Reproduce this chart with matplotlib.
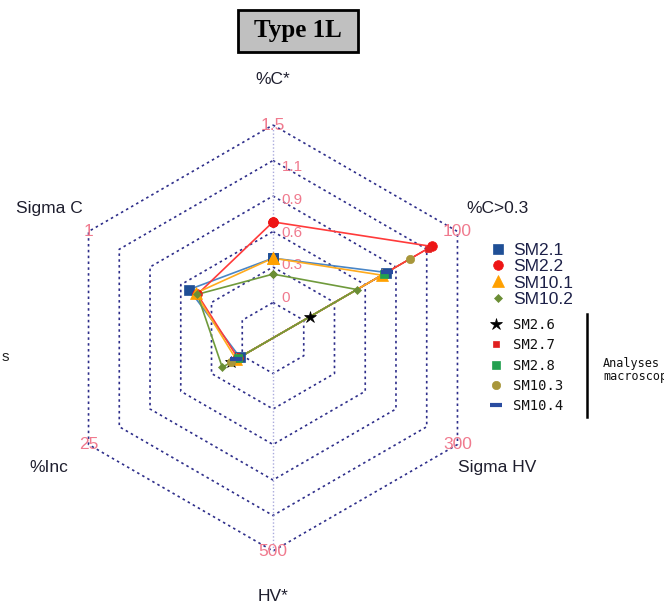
import numpy as np
import matplotlib.pyplot as plt
from matplotlib.lines import Line2D
from matplotlib.patches import Rectangle

# axes of the radar, clockwise from the top
axis_names = ['%C*', '%C>0.3', 'Sigma HV', 'HV*', '%Inc', 'Sigma C']
axis_max = ['1.5', '100', '300', '500', '25', '1']
ring_labels = ['0', '0.3', '0.6', '0.9', '1.1', '1.5']
angles = np.deg2rad([90, 30, -30, -90, -150, 150])

# values as fraction of the outer ring
sm2_1 = [0.375, 0.615, 0, 0, 0.18, 0.455]
sm2_2 = [0.545, 0.86, 0, 0, 0.19, 0.41]
sm10_1 = [0.375, 0.59, 0, 0, 0.20, 0.42]
sm10_2 = [0.30, 0.455, 0, 0, 0.275, 0.41]
# macroscopic analyses
sm2_6 = [0, 0.20, 0, 0, 0.23, 0]
sm2_7 = [0, 0.84, 0, 0, 0.20, 0]
sm2_8 = [0, 0.60, 0, 0, 0.19, 0]
sm10_3 = [0, 0.745, 0, 0, 0.23, 0]
sm10_4 = [0, 0.62, 0, 0, 0.20, 0]

W, H = 664, 611
cx, cy, R = 273, 338, 213

fig = plt.figure(figsize=(W / 100, H / 100), dpi=100)
ax = fig.add_axes([0, 0, 1, 1])
ax.set_xlim(-cx / R, (W - cx) / R)
ax.set_ylim(-(H - cy) / R, cy / R)
ax.axis('off')

# hexagonal grid
ca = np.append(np.cos(angles), np.cos(angles[0]))
sa = np.append(np.sin(angles), np.sin(angles[0]))
for k in range(1, 7):
    r = k / 6
    ax.plot(r * ca, r * sa, color='#2e2e8a', lw=1.2, ls=(0, (1.5, 2)), zorder=1)
ax.plot([0, 0], [-1, 1], color='#aaaadc', lw=1.0, ls=(0, (1, 1.5)), zorder=1)

# labels
for name, mx, a in zip(axis_names, axis_max, angles):
    ax.text(1.215 * np.cos(a), 1.215 * np.sin(a), name, ha='center', va='center',
            fontsize=12.5, family='Liberation Sans', color='#1e1e2e')
    ax.text(np.cos(a), np.sin(a), mx, ha='center', va='center',
            fontsize=12.5, family='Liberation Sans', color='#f07a8e', zorder=2)
for k, lab in enumerate(ring_labels[:-1]):
    ax.text(0.04, (k + 1) / 6 + 0.02 - 0.0125 * k, lab, ha='left', va='center',
            fontsize=11, family='Liberation Sans', color='#f07a8e', zorder=2)

main = [
    ('SM2.1', sm2_1, '#4a86c6', '#1f4f96', 's', 7),
    ('SM2.2', sm2_2, '#ff3a3a', '#ee1515', 'o', 7),
    ('SM10.1', sm10_1, '#ffab1e', '#ffa000', '^', 8),
    ('SM10.2', sm10_2, '#6f9a3c', '#6b8e35', 'D', 4.5),
]
macro = [
    ('SM2.6', sm2_6, '#6f9a3c', '#000000', '*', 9),
    ('SM2.7', sm2_7, '#f05050', '#e02020', 's', 4.5),
    ('SM2.8', sm2_8, '#5ab070', '#23a050', 's', 6),
    ('SM10.3', sm10_3, '#a89a3c', '#a8963a', 'o', 6),
    ('SM10.4', sm10_4, '#6f9a3c', '#2a4ca0', '_', 9),
]

h1, h2 = [], []
for group, handles, lw, z in ((main, h1, 1.2, 3), (macro, h2, 0.9, 2.5)):
    for name, vals, lc, mc, mk, ms in group:
        v = np.append(vals, vals[0])
        x, y = v * ca, v * sa
        ax.plot(x, y, color=lc, lw=lw, zorder=z)
        m = v > 0
        mew = 3 if mk == '_' else 0.5
        ax.plot(x[m], y[m], ls='none', marker=mk, ms=ms, color=mc, mec=mc, mew=mew, zorder=4)
        handles.append(Line2D([], [], ls='none', marker=mk, ms=ms, color=mc, mec=mc,
                              mew=mew, label=name))

fig.legend(handles=h1, loc='upper left', bbox_to_anchor=(492 / W, 1 - 243 / H),
           frameon=False, prop={'family': 'Liberation Sans', 'size': 12.5},
           labelcolor='#1c2048', labelspacing=0.06, handlelength=0.7,
           handletextpad=0.5, borderpad=0, borderaxespad=0)
fig.legend(handles=h2, loc='upper left', bbox_to_anchor=(491 / W, 1 - 318 / H),
           frameon=False, prop={'family': 'DejaVu Sans Mono', 'size': 10},
           labelcolor='#111111', labelspacing=0.45, handlelength=0.7,
           handletextpad=0.9, borderpad=0, borderaxespad=0)

# bracket and note for the macroscopic analyses
fig.add_artist(Line2D([587 / W, 587 / W], [1 - 314 / H, 1 - 417 / H], color='black', lw=1.8))
fig.text(603 / W, 1 - 370 / H, 'Analyses\nmacroscopiques', ha='left', va='center',
         family='DejaVu Sans Mono', fontsize=8.5, linespacing=1.05, color='#111111')
fig.text(2 / W, 1 - 357 / H, 's', ha='left', va='center', fontsize=11,
         family='Liberation Sans', color='#222222')

# title box
fig.add_artist(Rectangle((238 / W, 1 - 52 / H), 120 / W, 42 / H, facecolor='#c0c0c0',
                         edgecolor='black', lw=2, transform=fig.transFigure))
fig.text(298 / W, 1 - 31 / H, 'Type 1L', ha='center', va='center',
         family='Liberation Serif', weight='bold', fontsize=18)

fig.savefig('out.png', dpi=100)
